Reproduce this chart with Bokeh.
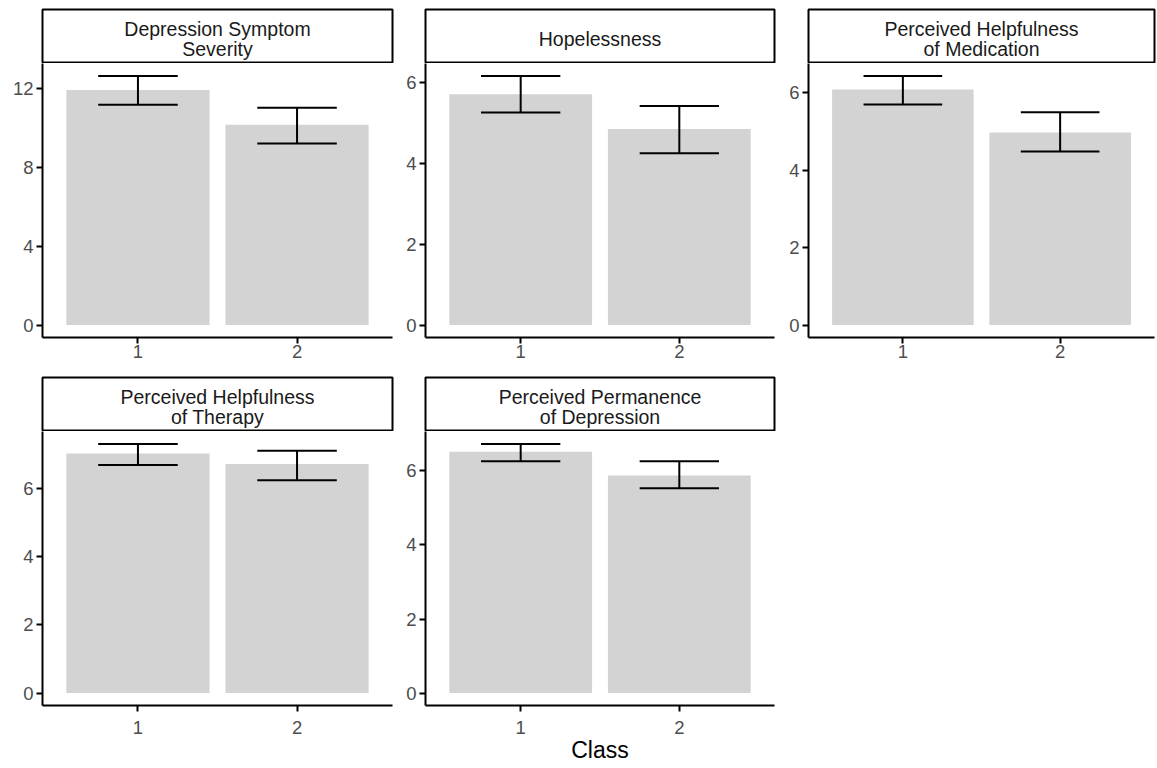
from bokeh.plotting import figure
from bokeh.layouts import row, column
from bokeh.models import Range1d, FixedTicker
from bokeh.embed import file_html
from bokeh.resources import INLINE
from bokeh.core.properties import value

FONT = "Liberation Sans"

# ---------------- data ----------------
classes = ["1", "2"]
x_title = "Class"

dep_title = "Depression Symptom\nSeverity"
dep_mean = [11.95, 10.18]
dep_lo = [11.20, 9.23]
dep_hi = [12.66, 11.05]
dep_ticks = [0, 4, 8, 12]

hop_title = "Hopelessness"
hop_mean = [5.70, 4.84]
hop_lo = [5.25, 4.24]
hop_hi = [6.15, 5.41]
hop_ticks = [0, 2, 4, 6]

med_title = "Perceived Helpfulness\nof Medication"
med_mean = [6.09, 4.98]
med_lo = [5.70, 4.49]
med_hi = [6.44, 5.50]
med_ticks = [0, 2, 4, 6]

ther_title = "Perceived Helpfulness\nof Therapy"
ther_mean = [7.04, 6.73]
ther_lo = [6.70, 6.25]
ther_hi = [7.32, 7.12]
ther_ticks = [0, 2, 4, 6]

perm_title = "Perceived Permanence\nof Depression"
perm_mean = [6.52, 5.88]
perm_lo = [6.26, 5.53]
perm_hi = [6.73, 6.26]
perm_ticks = [0, 2, 4, 6]

# ---------------- style ----------------
BAR = "#D3D3D3"
TICK_COL = "#4D4D4D"
STRIP_COL = "#1A1A1A"
FRAME_H = 274


def make_strip(title, left, fw, right, top):
    s = figure(frame_width=fw, frame_height=53, x_range=Range1d(0, 1), y_range=Range1d(0, 1),
               min_border_left=left, min_border_right=right, min_border_top=top, min_border_bottom=1,
               toolbar_location=None, output_backend="svg",
               x_axis_location=None, y_axis_location=None)
    s.xgrid.grid_line_color = None
    s.ygrid.grid_line_color = None
    s.outline_line_color = "black"
    s.outline_line_width = 2
    s.background_fill_color = "white"
    s.border_fill_color = "white"
    s.text(x=[0.5], y=[0.5], text=[title], text_align="center", text_baseline="middle",
           text_font=value(FONT), text_font_size="19.5px", text_color=STRIP_COL,
           text_line_height=0.95, y_offset=3)
    return s


def make_panel(mean, lo, hi, yticks, left, fw, right, bottom, xstand, xlabel=None):
    xs = list(range(1, len(classes) + 1))
    top = max(hi)
    p = figure(frame_width=fw, frame_height=FRAME_H,
               x_range=Range1d(0.4, len(classes) + 0.6),
               y_range=Range1d(-0.05 * top, 1.05 * top),
               min_border_left=left, min_border_right=right, min_border_top=0,
               min_border_bottom=bottom, toolbar_location=None, output_backend="svg")
    p.vbar(x=xs, bottom=0, top=mean, width=0.9, fill_color=BAR, line_color=None)
    p.segment(x0=xs, x1=xs, y0=lo, y1=hi, line_color="black", line_width=2)
    half = 0.25
    p.segment(x0=[x - half for x in xs], x1=[x + half for x in xs], y0=hi, y1=hi,
              line_color="black", line_width=2)
    p.segment(x0=[x - half for x in xs], x1=[x + half for x in xs], y0=lo, y1=lo,
              line_color="black", line_width=2)
    p.xgrid.visible = False
    p.ygrid.visible = False
    p.outline_line_color = None
    p.background_fill_color = "white"
    p.border_fill_color = "white"
    p.xaxis.ticker = FixedTicker(ticks=xs)
    p.xaxis.major_label_overrides = {x: c for x, c in zip(xs, classes)}
    p.yaxis.ticker = FixedTicker(ticks=yticks)
    for ax in (p.xaxis[0], p.yaxis[0]):
        ax.axis_line_color = "black"
        ax.axis_line_width = 2
        ax.major_tick_line_color = "black"
        ax.major_tick_line_width = 2
        ax.major_tick_out = 6
        ax.major_tick_in = 0
        ax.minor_tick_line_color = None
        ax.major_label_text_font = FONT
        ax.major_label_text_font_size = "18.5px"
        ax.major_label_text_color = TICK_COL
    p.yaxis.major_label_standoff = 3
    p.xaxis.major_label_standoff = xstand
    if xlabel:
        p.xaxis.axis_label = xlabel
        p.xaxis.axis_label_text_font = FONT
        p.xaxis.axis_label_text_font_size = "23px"
        p.xaxis.axis_label_text_font_style = "normal"
        p.xaxis.axis_label_text_color = "black"
        p.xaxis.axis_label_standoff = 0
    return p


# column geometry: (left border, frame width, right border)
C1 = (42, 350, 2)
C2 = (31, 349, 2)
C3 = (32, 346, 2)

p1 = column(make_strip(dep_title, *C1, top=9),
            make_panel(dep_mean, dep_lo, dep_hi, dep_ticks, *C1, bottom=39, xstand=1), spacing=0)
p2 = column(make_strip(hop_title, *C2, top=9),
            make_panel(hop_mean, hop_lo, hop_hi, hop_ticks, *C2, bottom=39, xstand=1), spacing=0)
p3 = column(make_strip(med_title, *C3, top=9),
            make_panel(med_mean, med_lo, med_hi, med_ticks, *C3, bottom=39, xstand=1), spacing=0)
p4 = column(make_strip(ther_title, *C1, top=1),
            make_panel(ther_mean, ther_lo, ther_hi, ther_ticks, *C1, bottom=60, xstand=9), spacing=0)
p5 = column(make_strip(perm_title, *C2, top=1),
            make_panel(perm_mean, perm_lo, perm_hi, perm_ticks, *C2, bottom=60, xstand=9,
                       xlabel=x_title), spacing=0)

layout = column(row(p1, p2, p3, spacing=0), row(p4, p5, spacing=0), spacing=0)

open("out.html", "w").write(file_html(layout, INLINE))
